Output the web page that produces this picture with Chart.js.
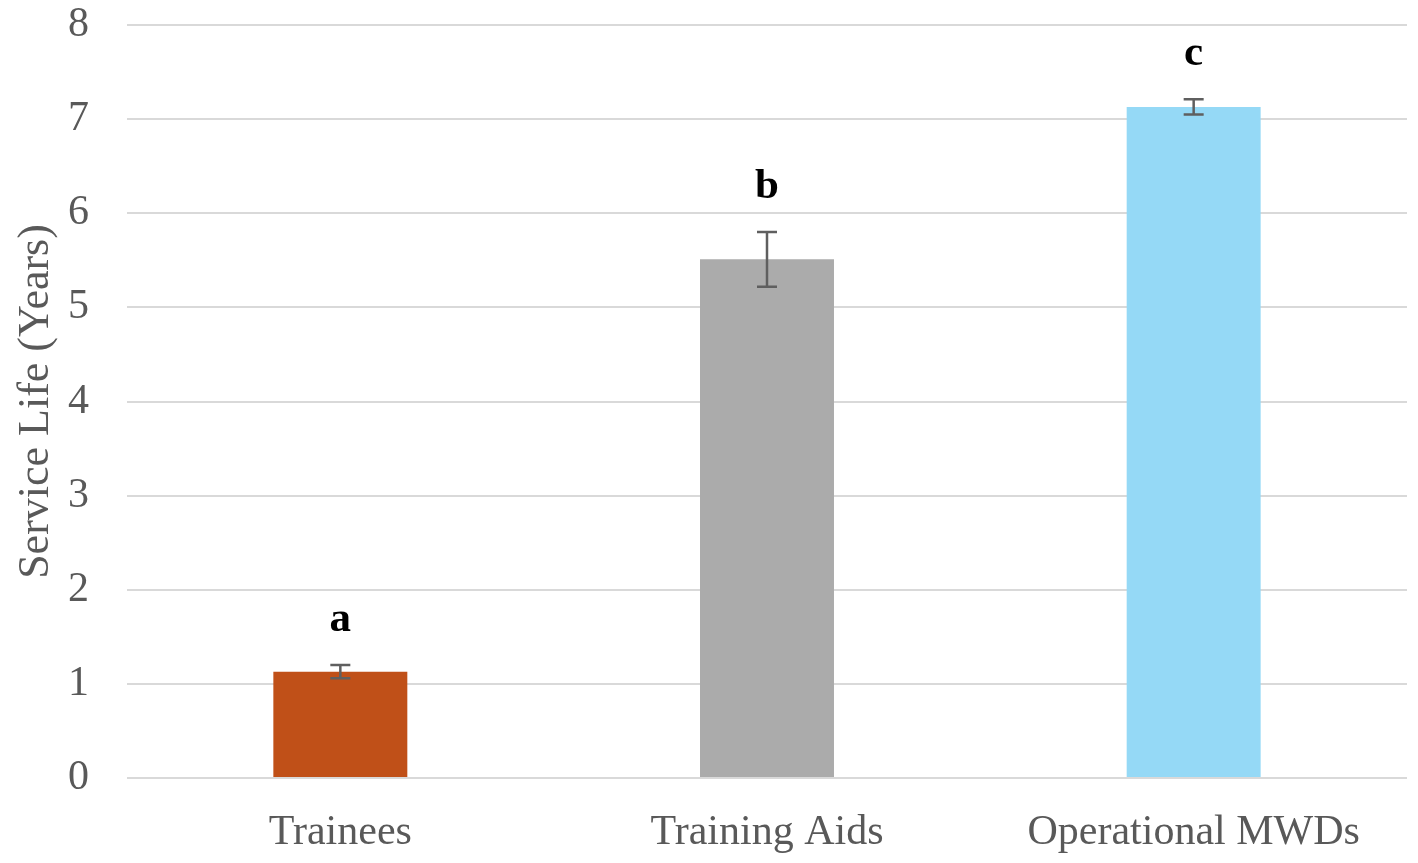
<!DOCTYPE html>
<html>
<head>
<meta charset="utf-8">
<script src="https://cdn.jsdelivr.net/npm/chart.js@4"></script>
<style>
  html, body { margin: 0; padding: 0; background: #fff; }
  #wrap { width: 1418px; height: 863px; }
</style>
</head>
<body>
<div id="wrap"><canvas id="cLife"></canvas></div>
<script>
// data
const groups = ['Trainees', 'Training Aids', 'Operational MWDs'];
const lifeYears = [1.13, 5.51, 7.13];
const errYears = [0.07, 0.29, 0.08];
const sigLetters = ['a', 'b', 'c'];
const barColors = ['#C05018', '#ABABAB', '#95D9F6'];
const yTicks = [0, 1, 2, 3, 4, 5, 6, 7, 8];

const serif = '"Liberation Serif", "Times New Roman", serif';

// error bars + significance letters
const errorBars = {
    id: 'errorBars',
    afterDatasetsDraw(chart) {
        let ctx = chart.ctx;
        let meta = chart.getDatasetMeta(0);
        let y = chart.scales.y;
        ctx.save();
        for (let i = 0; i < lifeYears.length; i++) {
            let x = meta.data[i].x;
            let top = y.getPixelForValue(lifeYears[i] + errYears[i]);
            let bot = y.getPixelForValue(lifeYears[i] - errYears[i]);
            ctx.strokeStyle = '#5f5f5f';
            ctx.lineWidth = 2.5;
            ctx.beginPath();
            ctx.moveTo(x, top); ctx.lineTo(x, bot);
            ctx.moveTo(x - 10, top); ctx.lineTo(x + 10, top);
            ctx.moveTo(x - 10, bot); ctx.lineTo(x + 10, bot);
            ctx.stroke();

            ctx.fillStyle = '#000';
            ctx.font = 'bold 43px ' + serif;
            ctx.textAlign = 'center';
            ctx.textBaseline = 'alphabetic';
            ctx.fillText(sigLetters[i], x, top - 34);
        }
        ctx.restore();
    }
};

new Chart(document.getElementById('cLife'), {
    type: 'bar',
    data: {
        labels: groups,
        datasets: [{
            data: lifeYears,
            backgroundColor: barColors,
            categoryPercentage: 1,
            barPercentage: 0.314,
        }]
    },
    options: {
        responsive: true,
        maintainAspectRatio: false,
        animation: false,
        layout: { padding: { top: 25, right: 11, left: 0, bottom: 0 } },
        plugins: { legend: { display: false }, tooltip: { enabled: false } },
        scales: {
            x: {
                grid: { display: false, drawTicks: false },
                border: { display: false },
                ticks: { color: '#595959', font: { family: serif, size: 42 }, padding: 30 },
                afterFit: (s) => { s.height = 85; }
            },
            y: {
                min: 0, max: 8,
                afterBuildTicks: (s) => { s.ticks = yTicks.map(v => ({ value: v })); },
                grid: { color: '#d9d9d9', lineWidth: 2, drawTicks: false },
                border: { display: false },
                ticks: { color: '#595959', font: { family: serif, size: 42 }, padding: 38 },
                title: {
                    display: true, text: 'Service Life (Years)', color: '#595959',
                    font: { family: serif, size: 44 }, padding: { top: 10, bottom: 0 }
                },
                afterFit: (s) => { s.width = 127; s.paddingTop = 0; s.paddingBottom = 0; }
            }
        }
    },
    plugins: [errorBars]
});
</script>
</body>
</html>
